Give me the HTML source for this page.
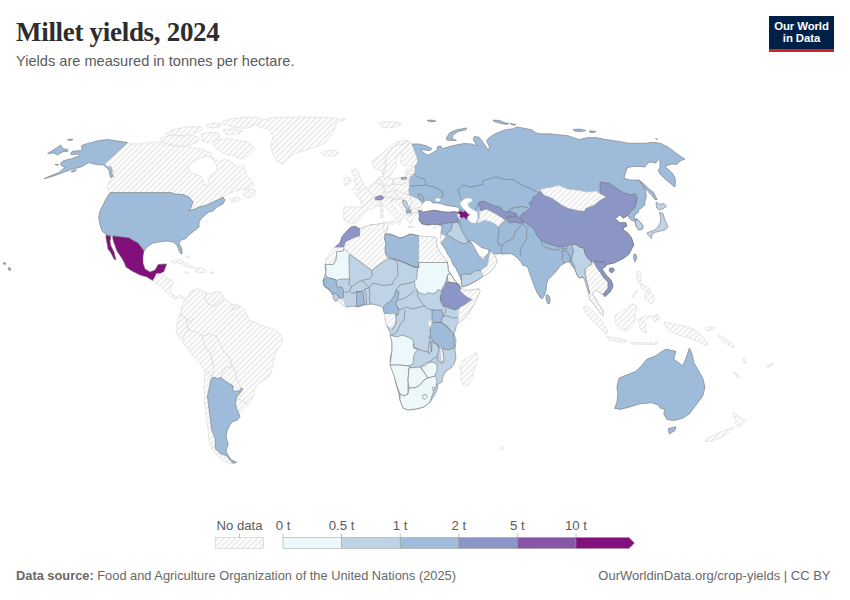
<!DOCTYPE html>
<html><head><meta charset="utf-8"><title>Millet yields, 2024</title>
<style>
html,body{margin:0;padding:0;background:#fff;}
body{width:850px;height:600px;position:relative;overflow:hidden;font-family:"Liberation Sans",Arial,sans-serif;}
.title{position:absolute;left:16px;top:16px;font-family:"Liberation Serif",serif;font-weight:bold;font-size:27px;color:#2d2d2d;letter-spacing:-0.3px;white-space:nowrap;line-height:32px;}
.sub{position:absolute;left:16px;top:52px;font-size:14.6px;color:#5b5b5b;white-space:nowrap;line-height:18px;}
.logo{position:absolute;left:769px;top:16px;width:65px;height:36px;background:#002147;}
.logo .bar{position:absolute;left:0;bottom:0;width:65px;height:3px;background:#ce261e;}
.logo .t{position:absolute;left:0;width:65px;text-align:center;color:#fff;font-weight:bold;font-size:11.4px;line-height:12px;letter-spacing:-0.1px;}
svg{position:absolute;left:0;top:0;}
.nd{fill:url(#hatch);stroke:#d2d2d2;stroke-width:0.5;}
.w{fill:#fff;stroke:#c8c8c8;stroke-width:0.4;}
polygon{stroke:#6e6e6e;stroke-width:0.55;stroke-linejoin:round;}
.b{fill:none;stroke:#6e6e6e;stroke-width:0.55;stroke-linejoin:round;}
.lb{fill:none;stroke:#c4c4c4;stroke-width:0.5;}
.lg{font-size:13.2px;fill:#5b5b5b;}
.foot{position:absolute;top:568px;font-size:13px;color:#686868;white-space:nowrap;line-height:16px;}
</style></head><body>
<div class="title">Millet yields, 2024</div>
<div class="sub">Yields are measured in tonnes per hectare.</div>
<div class="logo"><div class="t" style="top:4.3px">Our World</div><div class="t" style="top:16.4px">in Data</div><div class="bar"></div></div>
<svg width="850" height="600" viewBox="0 0 850 600">
<defs><pattern id="hatch" patternUnits="userSpaceOnUse" width="4" height="4" patternTransform="rotate(-45 2 2)">
<rect x="-1" y="-1" width="6" height="6" fill="#fff"/>
<path d="M-1,2 l6,0" stroke="#ccc" stroke-width="0.7"/>
</pattern></defs>
<g>
<polygon fill="#9ebcda" points="127.5,142.5 115,140.6 107.5,139.4 98.8,140.6 92.5,142.2 82.5,145 81.2,147 82.5,149.4 80,150.6 72.5,151.2 70.6,153.1 71.2,154.8 78.8,154 80,155.6 71.2,158.8 63.8,160.6 60.6,163.1 61.2,165.6 65,167.5 58.8,172.5 45,178.1 44.4,178.8 55,175.6 71.2,169.4 81.2,166.9 88.8,162.5 92.5,163.8 98.8,164.8 103.8,165 106.2,167.5 108.8,169.4 109.4,173.1 110.6,177.5 113.8,176.2 111.9,173.8 112.5,170 111.2,166.2 106.9,166.2 105,163.8"/>
<polygon fill="#9ebcda" points="47.5,153.5 52.5,150.6 60.6,145 63.1,148.8 67.5,149.4 68.1,151.2 62.5,151.9 57.5,155 53.8,153.1"/>
<polygon fill="#9ebcda" points="67.5,140 70,139 73,139.4 71,140.5"/>
<polygon fill="#9ebcda" points="71,171.5 74,170 76.5,169.8 74,172"/>
<polygon fill="#9ebcda" points="55,164.4 58.8,164.6 57.5,165.5"/>
<polygon fill="#9ebcda" points="3,263 5,262.5 6,264 4,264.5"/>
<polygon fill="#9ebcda" points="8,268 10,267.5 11,270 9,270.5"/>
<polygon class="nd" points="128,143.6 140,144 152,142 158,142 166,143 172,145 180,147 188,146 196,148 204,150 211,153 212,157 216,159 219.4,161.8 224,159.5 229.9,160.1 233.4,164.2 236.9,166.5 241.5,165.9 243.9,165.3 245,170 246.2,174.7 249.7,178.2 252,181.7 253.2,185.2 249.7,186.4 246.2,188.7 240.4,189.9 235.7,191 232.2,192.2 226.4,194.5 223,197 220,199 215,201 207,205 199,207 195,209 189,210.6 191,207 193,202 189,197 183,194.6 175,194 171,192.6 110,192.6 108,189 107.5,186 109,182 111,179 113.8,176.2 112.5,170 111.2,166.2 106.9,166.2 105,163.8"/>
<polygon fill="#9ebcda" points="110,192.6 171,192.6 175,194 183,194.6 189,197 193,202 191,207 189,210.6 195,209 199,207 207,205 215,201 220,199 223,197 225,200 223,204 217,207 213,211 209,212 205,215 201,219 199,222 199,227 194,231 189,235 185,239 181,240 179,243 182,249 182,254 180,253 177,245 173,242 167,241 159,242 153,243 147,247 144,251 141,247 138,243 134,241 129,238 121,237 113,236 106,234.6 102,231 100,225 98.6,217 100,211 103,205 106,199 109,194"/>
<polygon fill="#810f7c" points="113,236 121,237 129,238 134,241 138,243 141,247 144,251 143,256 143,263 145,269 150,272 155,270 158.2,264.4 166.6,263.9 164.8,269.1 163.8,271.9 160.1,273.8 156.3,273.8 155.4,276.6 152.5,280.4 147,277 140,275 132,271 126,267 124,262 121,257 117,251 114,243 112.6,238"/>
<polygon fill="#810f7c" points="106,235 111,236.6 110,241 111,246 114,252 116,260 114,259 111,253 108,249 107,243 106,238"/>
<polygon class="nd" points="152.5,281.4 155.4,276.6 156.3,273.8 160.1,273.8 163.8,271.9 164.5,275 168.5,278.5 172.3,280.4 173.2,283.2 171.4,286.1 170.4,290.8 172.3,294.5 176.1,296.4 180.8,295.5 184.5,297.4 186.4,300.2 183.6,299.2 179.8,297.4 176.1,299.2 172.3,297.4 168.5,294.5 165.7,291.7 161.9,287 158.2,284.2 154.4,282.8"/>
<polygon class="nd" points="171.4,261.6 176.1,259.7 180.8,259.7 185.5,262.5 190.2,265.4 194.9,267.2 192.1,268.2 187.4,267.2 182.6,264.4 177.9,262.5 173.2,263"/>
<polygon class="nd" points="195.8,268.2 201.5,267.7 206.2,270.5 205.2,272.4 200.5,272.9 195.8,271.9"/>
<polygon class="nd" points="210,271.8 213.7,272 213.5,273 210,273"/>
<polygon class="nd" points="185.5,271.9 188.8,272.2 187.4,273.4 185.5,273"/>
<polygon class="nd" points="186,255.5 188,256 189,258 187,257.5"/>
<polygon class="nd" points="254,122 273,117.4 301,117 325,117.4 346,119.3 336.5,122 334,131.5 324.7,143.3 313,148 301,151.5 291.8,155 282.4,164.5 277.6,162 273,155 270.6,145.6 273,136.2 268.2,129.2 258.8,126.8"/>
<polygon class="nd" points="321.2,152.7 327,150.4 336.5,150.4 338.8,153.2 334,156.2 324.7,156.2"/>
<polygon class="nd" points="213.5,139.7 221.7,139.7 229.9,138.5 239.2,140.8 247.4,142 250.9,144.3 255.5,149 252,152.5 247.4,156 242.7,158.9 236.9,157.8 232.2,154.8 226.4,154.8 221.7,152.5 217,149 213.5,145.5"/>
<polygon class="nd" points="165,134 175,129 188,127 200,126.5 203,129 198,132 190,134 180,135.5"/>
<polygon class="nd" points="207,124.5 214,123 221,123.5 220,127 212,128 207,127"/>
<polygon class="nd" points="223,121 232,118.5 242,117.5 256,117 262,119 258,124 250,127 244,128.5 236,127.5 228,126 223,124"/>
<polygon class="nd" points="160,138 170,135.5 182,136 194,135.5 199,138 197,142 190,145 180,146 170,145 162,142"/>
<polygon class="nd" points="201,134 210,132 218,133 220,137 215,141 208,143 202,141"/>
<polygon class="nd" points="223,129.5 235,129 243,131 238,134 226,134.5"/>
<polygon fill="#9ebcda" points="421,202 418,199 413,197 409,195 408.5,189 409.5,185 409,181 410,177 414,174 415,170 414.5,167.3 416,164.3 417.5,161.3 416.8,157.5 415.3,153.8 413.8,150 413,147 411.5,144 418.8,143.9 426.4,145.8 432,148.6 430.1,150.5 426.4,150.5 422.6,149.5 420.7,149.5 424.5,153.3 428.2,155.2 432.9,152.4 436.7,150.5 437.6,146.7 440.5,145.8 442.4,148.6 448.9,146.7 456.5,144.8 464,143.5 471.5,143.9 477.2,145.8 473.4,140.1 474.4,136.4 479.1,137.3 482.8,142 486.6,147.6 488.5,150.5 489.4,146.7 486.6,141.1 488.5,138.2 492.2,135.4 497.9,132.6 505.4,129.8 512.9,128.8 516.7,126.9 522.4,127.9 531.8,129.8 535.5,132.6 540,133.8 549.4,133.8 558.8,134.8 568.2,135.7 575.8,138.5 579.5,139.5 587.1,137.6 596.5,137.6 605.9,139.5 619.1,141.4 628.5,143.2 637.9,143.2 645.4,143.2 652.9,142.3 660.5,143.2 668,147 675.5,152.6 679.3,155.5 685,159 680,161 677,164.5 672,164 667,165.5 665,166.5 669,170 673,174 675,178 675.5,182 675,186.5 674.5,187 670,183 665,179 660,174 658,170 660,168 660,161 658,159.5 656,163 650,162 647,164 645,167 640,166.5 632,166.5 627,168 624,178 630,180 637.9,180 642.6,184.6 645.4,190.3 646.4,195.9 644.5,203.5 645.5,204.2 642,207.7 638.5,210 638.5,212.3 635,214.7 633.8,218.1 637.3,219.3 640.8,222.8 643.1,226.3 642,229.2 638.5,229.8 636.2,226.3 635,221 631.5,220.5 629.2,218.1 628,215.2 623.3,218.1 619.8,214.7 615.2,218.7 619.8,222.8 625.7,222.8 626.8,226.3 623.3,227.5 623.3,229.8 628,233.3 631.5,238 633.8,245 632,248 629,254 624,258 618,261 614,263 609,264 606,264.5 606,266 602,269 606,275 611,280 613,286 610,292 605,296.5 602,294 599,292 596,290 593.5,292 592.1,293 593.3,295.5 595.6,299 598,303.7 601.5,308.3 603.8,313 602.6,315.9 600.3,313 596.8,308.3 593.3,303.7 589.8,299 588.7,294.3 589.2,290.8 587.8,285.2 586.4,279.5 585,275.9 582.2,277.4 579.3,278.1 577.2,275.2 575.1,269.6 571.5,265.3 570.1,262.5 568,261.8 564.4,263.2 560.9,265.3 558.1,268.9 555.2,272.4 551,276.7 548.2,279.5 546.7,283.7 546,290.8 544.6,295.1 542.5,298.6 540.4,297.9 536.8,292.2 534,285.2 531.9,279.5 529.7,273.8 528.3,268.9 526.2,266 522.7,265.3 521.2,262.5 518.4,259 514.2,255.4 511.3,253.7 505.7,254 500,253.5 495,254.3 490.7,251 486.3,248.8 482,247.8 477.7,244.5 473.3,241.3 470.1,240.2 467.9,241.3 471.2,242.3 473.3,245.6 475.5,249.9 478.8,255.3 482,258.6 484.2,257.5 486.3,255.3 488.5,253.2 489,250.5 490.7,251 495,256.4 497.2,260.8 495,266.2 490.7,271.6 486.3,274.8 483.1,275.9 478.8,279.2 473.3,282.4 467.9,285.1 462.5,286.8 461.9,285.7 461.6,281.3 460.1,277 458,272.7 455.8,268.3 452.6,264 451.5,259.7 448.2,255.3 445,248.8 441.8,244.5 441,240 440.8,235 441.5,230 442,226 437,224.3 432.3,224.3 427,225 421.7,223.7 419,219.7 419.5,216 419,212.3 418.3,210.3 421.7,211 423.7,212.3 426.5,211.5 429.7,211 435,210.3 441.7,211.7 448.3,212.3 453.7,211.7 457.7,212.3 458.5,212 459.7,210 458.5,207.5 455,206.5 450,206 445,205 442,204 438,203 437,203 433,203 430,200.5 426,200 422,204"/>
<polygon class="w" points="460.3,203.3 462.3,200.7 465,198.7 468.3,198 471.7,198.7 472.3,200.7 471,202 469,202.7 467.7,204 468.3,206 470.3,208 473,210 475.7,210.7 477,212 477.7,215.3 477.7,218.7 476.3,222 475,223.3 471.7,222.7 469,220.7 467.7,218.7 467.7,215.3 467,213.3 465.7,211.3 463.7,209.3 462.3,207.3 461,205.3"/>
<polygon class="nd" points="378,123 385,121.5 395,122 402,123.5 398,126 390,128 382,127"/>
<polygon class="w" points="435,199 438,198 441,199.5 439,201.5 436,201.5"/>
<polygon fill="#9ebcda" points="446.1,138.2 449.9,132.6 456.5,129.8 466.8,127.9 465.9,129.8 458.4,131.6 453.6,134.5 451.8,138.2 456.5,140.5 450.8,140.5 447,140.1"/>
<polygon fill="#9ebcda" points="427,120.4 432,120 436,121.2 431,121.9"/>
<polygon fill="#9ebcda" points="493,120 500,120.5 504,122.5 509,123.5 506,124.5 499,123 494,121.5"/>
<polygon fill="#9ebcda" points="510,123.5 516,124.5 513,125.2"/>
<polygon fill="#9ebcda" points="573,129.5 580,129 586,130.5 581,131.6 575,131.2"/>
<polygon fill="#9ebcda" points="589.5,130.8 596,131.3 594,132.6 590,132.4"/>
<polygon fill="#9ebcda" points="655.5,138.6 657.5,139 656.5,139.8"/>
<polygon fill="#9ebcda" points="639,179.7 644.3,184.3 649,189 653.6,192.5 657.1,199.5 654.8,199.5 651.3,194.8 646.6,190.2 642,184.3"/>
<polygon class="nd" points="343.8,207.5 350,206.2 357.5,207.5 362,207.8 361,203 360,198.5 357,196.2 353.8,194 356,192.5 361.2,191.2 366.2,187.5 371.2,185 375,181.9 377.5,178.8 380,176.2 383.8,177 382.5,172.5 386.2,171.2 387.5,176.2 392.5,178.8 400,177.5 407.5,177.5 406.2,175 405,171.2 407.5,168.8 412.5,167.5 414.5,167 415,170 414,174 410,177 409,181 409.5,185 408.5,189 409,195 413,197 418,199 421,202 422,204 421,207 422,210 418.5,210.5 417,212 416,215 413,218 412.5,222.5 410,223.8 408,221 406.5,218 405,215 403.5,211.4 401,207.6 397.3,203.8 393.5,200.5 390.7,201 392.6,204.8 395.4,208.5 399.2,212.3 402.9,215.1 403.9,218 400.6,219.8 401,223.6 399.2,224.5 398.2,220.8 394.5,217 390.7,213.2 387,209.5 385,206.6 383.2,204.8 379.4,206.6 378.8,205 376.2,206.2 372.5,208.8 367.5,209.4 366.2,212.5 362.5,215 360,218.8 357.5,222.5 353.8,223.8 348.8,222.5 345,221.2 343.1,217.5 343.8,212.5"/>
<polygon class="nd" points="372.5,160.5 374.8,158.3 378.5,156.8 382.3,153.8 386,150 389.8,147 393.5,144 397.3,142.1 401,141 404.8,140.3 408.5,140.6 411.5,144 413,147 413.8,150 415.3,153.8 416.8,157.5 417.5,161.3 416,164.3 414.5,166 410,165.5 406.3,165.8 402.5,165 401,162.8 400.3,159.8 401.8,156.8 402.5,153.8 401,153 398.5,154.5 397.3,157.5 395.8,159.8 395.8,163.5 397.3,165.8 395,168 393.5,170.3 392.8,172.5 391.3,174.8 389,177 386.8,179.3 384.5,180 383.8,177 383,174 382.3,171 380,170.3 377,169.5 374.8,168.8 373.3,166.5 372.5,163.5"/>
<polygon class="nd" points="351.2,170 356.2,168.8 358.8,172.5 361.2,178.8 363.8,183.8 365,187.5 361.2,189.4 356.2,190 352.5,189.4 355,186.9 356.2,183.8 353.8,181.2 355,177.5 352.5,174.4"/>
<polygon class="nd" points="343.8,181.2 346.2,177.5 350,177.5 351.2,181.2 348.8,185 345,185.6"/>
<polygon class="nd" points="388.8,221.5 395.5,221 396.3,223 393,224.5 389.5,224"/>
<polygon class="nd" points="380.5,210.5 383,210.3 383.2,217.5 380.8,218"/>
<polygon class="nd" points="381,206.6 382.8,206.6 382.6,209.6 381,209.6"/>
<polygon class="nd" points="408,226.3 414,226.3 414,227.6 408,227.6"/>
<polygon class="nd" points="433,227 437,226.5 437,228.2 433,228.2"/>
<polygon fill="#8c96c6" points="375,197.5 377.5,196.2 381.2,195.6 383.8,197.5 382.5,199.4 378.8,200 375.6,199.8"/>
<polygon fill="#bfd3e6" points="403.1,200 406.2,201.2 407.5,205 410,207.5 408.8,209.4 405.6,208.1 403.8,205 402.5,202.5"/>
<polygon fill="#9ebcda" points="406.2,210 411,210 411.2,213 406.5,213"/>
<polygon fill="#9ebcda" points="401,177.5 406,177 406.5,179 401.5,179.5"/>
<polygon fill="#9ebcda" points="418,194 421,194.5 424,198 423,201 420,199 418,196"/>
<polygon fill="#8c96c6" points="539,192 540,191.5 544,195 552,198 562,205 568,208 576,210 584,211 586,208 594,205 600,200 606,197 600,195 600,188 600,182 609.3,183.2 617.5,189 623.3,192.5 630.3,194.8 635,193.7 637.3,198.3 636.2,203 635,207.7 630.3,212.3 628,215.2 623.3,218.1 619.8,214.7 615.2,218.7 619.8,222.8 625.7,222.8 626.8,226.3 623.3,227.5 623.3,229.8 628,233.3 631.5,238 633.8,245 632,248 629,254 624,258 618,261 614,263 609,264 606,264.5 604,262 599,262 594,261 590.7,261.1 587.8,258.2 585,254 583.6,248.3 579.3,246.9 576.5,244.8 572.2,244.1 566.6,245.5 562.3,246.9 556.7,246.2 551,244.8 545.3,242.7 541.1,240.5 536.8,235.6 535,231 532,227 528,225 525,222 522,220 520,217 522,214 525,212 528,210 531,207 529,203 532,201 533,197 537,195"/>
<polygon class="nd" points="540,190 544,188.5 551,187.5 558.8,185.6 568.2,189.4 577.6,190.3 587.1,192.2 596.5,191.2 600.2,194.1 605.9,196.9 600,200 594,205 586,208 584,211 576,210 568,208 562,205 552,198 544,195"/>
<polygon class="nd" points="587,264 593.5,262.5 595,264 597,268 600,272 604,278 608,282 608,288 604,293 602,294 599,292 596,290 593.5,292 592.1,293 593.3,295.5 595.6,299 598,303.7 601.5,308.3 603.8,313 602.6,315.9 600.3,313 596.8,308.3 593.3,303.7 589.8,299 588.7,294.3 589,292 587,286 586,280 585,274 586,268"/>
<polygon fill="#8c96c6" points="594,261 599,262 604,262 606,264.5 606,266 602,269 606,275 611,280 613,286 610,292 605,296.5 604,293 608,288 608,282 604,278 600,272 597,268 595,264"/>
<polygon fill="#bfd3e6" points="572.2,244.1 576.5,244.8 579.3,246.9 583.6,248.3 585,254 587.8,258.2 590.7,261.1 592.1,263.9 587.8,266.7 585,269.6 585,273.1 586.4,279.5 587.8,285.2 589.2,290.8 589.9,293.7 588.5,292.2 586.4,286.6 585,280.9 582.9,276.7 579.3,278.1 577.2,275.2 575.1,269.6 573.7,263.9 571.5,261.1 572.2,255.4 573.7,251.2 572.2,246.9"/>
<polygon fill="#8c96c6" points="418.3,210.3 421.7,211 423.7,212.3 426.5,211.5 429.7,211 435,210.3 441.7,211.7 448.3,212.3 453.7,211.7 457.7,212.3 458.3,215 458.5,218 457.7,221.7 453.7,222.3 448.3,223 443.7,223.7 441.7,224.3 437,224.3 432.3,224.3 427,225 421.7,223.7 419,219.7 419.5,216 419,212.3"/>
<polygon class="nd" points="457.8,213.5 460,213.2 461,215.5 460.8,218.3 458.8,218.2 457.6,216"/>
<polygon fill="#810f7c" points="458.3,212 461,211 463,212.3 465,211.3 466.3,212 467.7,213.7 469.7,214.7 468,216 467,217.3 466.3,219.7 465,218 463.7,217 461.7,218 459.7,216.7 460.3,214.7 458.7,213.7"/>
<polygon fill="#bfd3e6" points="452.3,223.3 457.7,222 459,224.3 460.3,227 461.7,230.3 463,233 465,236 467.9,241.3 466.8,243.4 462.5,243.4 455,239.7 449.7,236.3 446.5,234.5 448.3,232.3 451,230.3 452,227"/>
<polygon class="nd" points="440.8,233.7 443,234.8 446.3,236.9 444,240 441,243.4 440.2,240 440.5,236"/>
<polygon fill="#8c96c6" points="478.8,202.5 483.8,201.2 490,203.8 495,206 500,207 503,211 508,212 510,211 513,212.5 516,213.5 517,215 513,216.5 509,216 507,217 505,220.6 501.2,217.5 495,213.8 490,211.2 486.2,209.4 481.2,211.2 480,207.5 478.8,203.8"/>
<polygon class="nd" points="479,211.5 481.2,211.2 486.2,209.4 490,211.2 495,213.8 501.2,217.5 505,220.6 501.2,223.8 498.8,226.9 495,223.8 490,221.2 483.8,220 478.5,223 477.5,221 479.5,218 479.8,214"/>
<polygon fill="#8c96c6" points="507,217 513,217 517,216 520,218 523,221 524,223 518,223 515,222 511,223 508,222"/>
<polygon fill="#bfd3e6" points="461.4,274.8 465.8,273.8 470.1,274.8 472.3,272.7 476.6,270.5 480.9,270.5 483.1,275.9 478.8,279.2 473.3,282.4 467.9,285.1 462.5,286.8 461.4,283.5"/>
<polygon class="nd" points="483.1,275.9 480.9,270.5 487.4,266.2 488.5,260.8 489.6,255.3 490.7,251 495,256.4 497.2,260.8 495,266.2 490.7,271.6 486.3,274.8"/>
<polygon class="nd" points="482,256 484.2,256.5 484.2,258.6 482,258.6"/>
<polygon fill="#bfd3e6" points="656,201.8 659.5,204.2 664.1,203.6 666.5,206.5 663,208.8 659.5,210 656.6,207.7"/>
<polygon fill="#bfd3e6" points="659.5,212.3 663,213.5 664.7,219.3 667,224 667.6,227.5 665.3,229.8 660.6,231 656,232.1 652.5,233.3 651.3,238.6 649,235.6 646.6,233.3 649,232.1 654.8,229.8 658.3,226.3 660.6,221.6 660.6,217"/>
<polygon fill="#bfd3e6" points="635,221 637.3,219.3 640.8,222.8 643.1,226.3 642,229.2 638.5,229.8 636.2,226.3"/>
<polygon fill="#9ebcda" points="634,254 636,254.5 637,258 635,262 633.5,258"/>
<polygon fill="#8c96c6" points="609.3,268.3 613,267.8 614.6,270.3 612,273 609.3,271.6"/>
<polygon fill="#9ebcda" points="546.7,294.4 548.9,295.8 550.3,299.3 549.6,303.6 547.5,303.6 546,299.3 546,296.5"/>
<polygon class="nd" points="583,306 588,306 594,312 600,318 604,324 608,332 606,334 602,330 596,324 590,318 585,312"/>
<polygon class="nd" points="606,336 616,338 626,340 628,342 620,342 610,340"/>
<polygon class="nd" points="614.7,315.7 620,313 626.7,307.7 632,303.7 636,305 637.3,309 634.7,313 636,318.3 633.3,323.7 629.3,329 624,330.3 618.7,327.7 615.3,322.3"/>
<polygon class="nd" points="640,318.3 645.3,316.3 652,315.7 646.7,318.3 644,321 646.7,323.7 645.3,327.7 646.7,333 642.7,331.7 640,327.7 638.7,323.7 638,319.7"/>
<polygon class="nd" points="636.5,272 640,271.5 641.5,275 640,279 642,283 640.5,285 638,282 637,277"/>
<polygon class="nd" points="640,284 645,285.5 649,288 651,291 648,292 644,290 641,288"/>
<polygon class="nd" points="645,293 650,292 653.5,295 654.5,300 652,304 649,302.5 646,299 644.5,296"/>
<polygon class="nd" points="636.5,290 637.5,290.5 633,297.5 632,297"/>
<polygon class="nd" points="656,314.5 658,314.3 660,318 658.5,321 656.5,319"/>
<polygon class="nd" points="664,322 672,323 680,325 688,327 695,330 700,334 704,338 708,344 706,346 700,342 694,340 688,338 682,336 676,334 670,331 666,327"/>
<polygon class="nd" points="630,342 640,342.5 650,343 658,342 656,344.5 645,344.5 632,344"/>
<polygon fill="#bfd3e6" points="351,227 360,229 370,225 380,224 386,222 388,226 387,230 385,234 390,234 395,236 400,238 404,237 406,236 410,234 415,235 419,236 425,236.5 430,237 436,237.5 437,240 436,242.3 437.3,247 439.8,252 444,257.5 447.2,261.8 448,266 448.2,270.5 450.8,274 454,279.2 457.3,283.5 459.8,287 461.5,288.5 464,290 467.5,290.5 472.5,290 478.8,288.8 480,291.2 477.5,297.5 473.8,305 468.8,312.5 463.8,318.8 458.8,322.5 456.2,325 456,328 454,334 456,340 455,350 456,358 454,364 451,368 446,371 443,376 442,382 438,384 437,390 434,396 430,402 424,407 416,409 408,410 403,408 400,400 399,394 396,384 394,374 391,366 390,360 392,350 392,340 390,332 386,324 385,318 386,312 384,308 380,306 372,304 364,305 358,307 352,306 346,307 342,304 337,299 332,294 329,290 324,286 323,281 324,278 326,272 325,266 326,262 330,254 334,248 340,243 342,237 346,232"/>
<polygon fill="#8c96c6" points="351,227 355,226 360,229 360,236 354,238 346,242 344,247 334,248 340,243 342,237 346,232"/>
<polygon class="nd" points="334.3,247.6 343.7,247.6 343.1,251.1 336.7,251.7 335.5,259.8 333.2,263.9 325,264.5 326.7,258.7 329.7,252.8"/>
<polygon fill="#edf8fb" points="325,264.5 333.2,264.5 336.1,259.8 336.7,251.7 343.1,251.1 343.7,248.7 350.7,254.6 348.9,255.2 349.5,279 341.3,279 336.7,280.2 332,278.5 327.3,278.5 325.6,273.8 326.2,269.2"/>
<polygon class="nd" points="343.7,248.2 346,242 354,238 360,236 360,229 370,225 380,224 386,222 388,226 387,230 385,234 384.5,240 386,242 385,250 385.6,254 388,258.7 381,263.3 371.6,270.3 350.7,254.6"/>
<polygon class="nd" points="384,222.5 387,222 388,226 387,230 385,234 383.5,229"/>
<polygon fill="#9ebcda" points="385,234 390,234 395,236 400,238 404,237 406,236 410,234 415,235 419,236 418.8,267.5 414,267 400,261 396,259 390,258 387,256 385.6,254 385,250 386,242 384.5,240"/>
<polygon class="nd" points="419,236 425,236.5 430,237 436,237.5 437,240 436,242.3 437.3,247 439.8,252 444,257.5 447.2,261.8 446.2,262.5 418.8,262.5"/>
<polygon fill="#edf8fb" points="418.8,262.5 446.2,262.5 447.2,261.8 448,266 448.2,270.5 450,273.8 447.5,275 446.2,280 445,283.8 442.5,287.5 441.2,291.2 438.1,289.4 436.2,292.5 432.5,293.8 428.8,292.5 425,294.4 420,293.1 416.9,290 415,286.2 414.4,281.2 416.9,278.8 417.5,268.8 418.8,267.5"/>
<polygon fill="#edf8fb" points="450,273.8 450.8,274 454,279.2 457.3,283.5 459.8,287 458.8,283.8 455,283.1 451.2,282.5 447.5,281.2 447.5,275"/>
<polygon fill="#8c96c6" points="446.2,282.5 451.2,282.5 455,283.1 458.8,285 461.2,287.5 460,290 462.5,293.1 466.2,296.2 472.5,299.4 470,301.2 465,305 460,307.5 455,310 451.2,308.8 447.5,307.5 443.8,305 441.2,301.2 440,297.5 441.2,293.8 442.5,290 445,286.2"/>
<polygon class="nd" points="461.5,288.5 464,290 467.5,290.5 472.5,290 478.8,288.8 480,291.2 477.5,297.5 473.8,305 468.8,312.5 463.8,318.8 458.8,322.5 458.1,317.5 458.8,311.2 460,307.5 465,305 470,301.2 472.5,299.4 466.2,296.2 462.5,293.1 460,290"/>
<polygon fill="#9ebcda" points="323.2,280.8 327.3,277.3 332,278.5 336.1,280.2 336.7,286.6 342.5,287.8 343.7,291.3 343.1,298.3 341.3,299.5 339,296 333.2,293.6 329.1,289 325,286.6 323.8,284.3"/>
<polygon fill="#bfd3e6" points="333.2,293.6 336,293.5 338.4,296.5 338,300.5 335,301.2 333,298"/>
<polygon class="nd" points="338.4,298.5 341.3,299.5 343.1,298.3 344.2,303 346,307.6 342,304 338,301"/>
<polygon fill="#9ebcda" points="356.5,291.9 362.3,291.3 363.5,294.8 364,300.6 364.6,304.1 361.1,305.3 356.5,306.5 356.5,300.6"/>
<polygon fill="#9ebcda" points="396,290 399,292 398,298 396,304 399,310 398,315 390,314 384,313 383,308 386,304 390,302 394,296"/>
<polygon class="nd" points="384,314 395,314 396,320 394,326 390,328 386,324"/>
<polygon fill="#edf8fb" points="390,335 397,337 402,335 408,337 413,340 414,348 418,349 414,354 413,364 408,366 400,365 390,365 391,358 392,350 392,342"/>
<polygon fill="#edf8fb" points="390,365 400,365 408,366 412,368 409,368 408,380 408,394 404,396 400,394 397,386 394,376 392,370"/>
<polygon fill="#edf8fb" points="409,368 420,367 424,372 428,378 424,380 419,386 414,388 409,388 408,380"/>
<polygon fill="#edf8fb" points="421,367 426,363 432,362 437,364 437,370 435,376 428,378 424,372"/>
<polygon fill="#edf8fb" points="400,394 404,396 408,394 409,388 414,388 419,386 424,380 428,378 435,376 437,380 436,388 434,390 430,402 424,407 416,409 408,410 403,408 400,400"/>
<polygon fill="#9ebcda" points="431,323 436,322 442,323 448,328 453,333 454,340 454,348 448,350 440,348 435,343 431,338 430,330"/>
<polygon fill="#9ebcda" points="432,310 442,310 443,316 441,322 434,323 432,319"/>
<polygon class="nd" points="460,366 464,360 471,356 476,352 478,358 475,368 472,378 468,386 464,386 461,380 461,372"/>
<polygon class="nd" points="186.4,300.2 190.2,291.7 194.9,289.8 198.6,288 201.5,290.8 205.2,292.6 210.9,293.6 215,292 221,292 224,298 228,301 232,304 237,304.5 242,307 245,310 247,315 249,320 255,322 260,325 267,327 273,329 279,333 282,337 282.7,340.3 278.7,348.3 274.7,355 273.3,361.7 272,369.7 269.3,376.3 264,380.3 258.7,383 254.7,388.3 254,393.7 252,399 248,404.3 245.3,408.3 241.3,411.7 238.7,411 237.5,410.5 240,416.3 237.7,419.8 231.8,422.2 229.5,425.7 227.2,430.3 226,436.2 227.2,444.4 226,449 227.2,454.9 230.7,459.5 236.5,461.9 233,463 230.7,464.2 223.5,460.6 217.6,455.9 211.8,448.8 208.8,439.4 208,430 206.5,420 205,407 203.8,388.3 205,372 202.7,367.3 193.3,355.7 184,344 178,336 176,330 177,324 180,314 183,302"/>
<polygon fill="#9ebcda" points="212,378 214,377.3 216.7,378 217.7,379.3 218.7,377.7 221.3,377.7 224,380 226.7,382 230,384 232.7,385.3 233.3,388 232.7,390.7 236,391.3 239.3,390.7 241.3,388 242.7,388.7 241.3,391.3 238.7,394.7 236.7,397.3 236,400 235.5,404 236.5,408 237.5,410.5 240,416.3 237.7,419.8 231.8,422.2 229.5,425.7 227.2,430.3 226,436.2 228.2,444.1 225.9,451.2 228.2,455.3 230.6,459.4 236.5,462.4 233,463.3 229.4,459.4 227,455.9 220,453.5 215.3,448.8 215.3,439.4 211.8,430 210.8,423.3 209.7,414 208.5,404.7 208,400 207.3,396.7 208.3,392 209.3,388 210,383.3 210.7,380"/>
<polygon fill="#9ebcda" points="665.9,349.1 676,351.3 673.8,359.1 682.7,365.8 686,358 689.4,347.9 691.6,352.4 693.9,362.5 698.3,370.3 702.8,378.1 705,387 702.8,396 696.1,404.9 689.4,413.9 682.7,418.3 673.8,420.6 667,419.5 663.7,413.9 664.8,409.4 660.3,408.3 658.1,404.9 651.4,402.7 640.2,403.8 629,407.2 620.1,409.4 614.5,408.3 616.8,402.7 617.9,393.8 616.8,387 619,378.1 626.8,374.8 635.8,371.4 641.4,365.8 646.9,359.1 655.9,355.8 660.3,352.4"/>
<polygon fill="#9ebcda" points="668.2,428.4 676,426.8 674.9,430.6 669.3,434"/>
<polygon class="nd" points="733,411.6 738,416 746,421 743,424 738,427.3 735,422 734,416"/>
<polygon class="nd" points="734,427 730,432 722,437 712,441 705,442 708,438 716,434 726,430"/>
<polygon class="w" points="188.4,166.5 191.3,163 196,160.1 201.8,157.2 207.7,156 212.4,158.9 214.7,161.8 217,165.3 216.4,170 213.5,173.5 210,175.3 208.9,179.4 207.7,185.2 204.8,185.8 203,181.7 201.8,177 198.3,175.3 192.5,173.5 189,170.6"/>
<polygon class="nd" points="428.5,321 431,320.5 431.5,324 430.5,327 428.5,326"/>
<polygon class="nd" points="705,328 710,326.5 715,327.5 712,330 707,331"/>
<polygon class="nd" points="718,334 724,338 730,342 735,347 733,348 727,344 721,339 717,335.5"/>
<polygon class="nd" points="743,358 745,359 745.5,363 744,363"/>
<polygon class="nd" points="734,372 736,372.5 740,377.5 738.5,378.5 734.5,374"/>
<polygon class="nd" points="766,366 772,363 773.5,364 768,367.5"/>
<polygon class="nd" points="653,316 656,315 657,319 655,322 653,320"/>
<polygon class="nd" points="500.5,448 502,446.5 504,447.5 503,449 501,449.5"/>
<polygon class="nd" points="244,190.5 249,188.8 254,189.3 256,192 254,196 249,198 245,197 243,194"/>
<polygon class="nd" points="229.5,199.5 234,197.8 239,197.2 240.5,199.3 236,201.5 231,202.3"/>
<polygon class="w" points="440.3,346 441.8,347.5 442.8,353 443.6,359 442.8,362.5 441.5,359 440.6,352"/>
<polygon fill="#edf8fb" points="423,395 426,394.5 427.5,397 425,399.5 422.5,398"/>
<polygon fill="#edf8fb" points="432,387.5 434.5,387 435,389.5 433,390.5"/>
<polyline class="b" points="461,199 458,190 462,186 464,185.3 470,187 475.3,186.2 482.8,184.4 482.8,180.6 496,176.8 505.4,179.6 512.9,179.6 522.4,185.3 531.8,189.1 537,192"/>
<polyline class="b" points="475,211 478.8,203 483.8,201.2"/>
<polyline class="b" points="414,174 418,177 424,179 426,182.5 425,185"/>
<polyline class="b" points="409.5,185.5 414,186 420,185.5 425,185"/>
<polyline class="b" points="425,185 430,186 436,188 442,191 443,195 441,198"/>
<polyline class="b" points="459.7,210 462,209.5 465,210.5 466.3,212"/>
<polyline class="b" points="498.8,226.9 498.8,233.8 497.5,240 498.8,245 502.5,245 501.2,250 502.5,255"/>
<polyline class="b" points="502.5,245 505,242.5 510,240 513.8,237.5 515,232.5 518.8,227.5 522.5,223.8"/>
<polyline class="b" points="498.8,226.9 501.2,223.8 505,220.6"/>
<polyline class="b" points="522.5,223.8 527,228 526.5,232 527,237 525,242 521.5,247 520,251 521,256"/>
<polyline class="b" points="541.1,240.5 542,245 546,247.5 552,249.5 558,250 559,247"/>
<polyline class="b" points="562,247 562,249 567,248.5 567,246"/>
<polyline class="b" points="562,251 566,250.5 568,253 570.1,257 570.1,262.5"/>
<polyline class="b" points="562,251 563,255 562,259 564.4,263.2"/>
<polyline class="b" points="508,213 509,210 513,208 521,206.5 528,207.5"/>
<polyline class="b" points="440.8,243.4 446.3,236.9"/>
<polyline class="b" points="467.9,241.3 471.2,242.3"/>
<polyline class="b" points="459,220 461.4,225"/>
<polyline class="b" points="635,221 637.3,219.3"/>
<polyline class="b" points="350.7,254.6 371.6,270.3 372.2,275 370.5,278.5 362.3,280.2 356.5,283.1 351.8,286.6 349.5,291.3 344.8,292.5"/>
<polyline class="b" points="349.5,279 349,285 351.8,286.6"/>
<polyline class="b" points="371.6,270.3 381,263.3 388,258.7 395,259.8 397.3,263.3 398,275 393.8,280.8 392.6,284.3 383.3,285.5 374,283.1 371.6,284.3 369.3,287.8"/>
<polyline class="b" points="362.3,280.2 363.5,282 367,285.5 369.3,287.8 364.6,289 362.3,291.3 356.5,291.9 351.8,293.6 349.5,291.3"/>
<polyline class="b" points="369.3,287.8 369.9,293.6 369.3,299.5 370.5,304.1"/>
<polyline class="b" points="364.6,289 366,295 366.5,304.5"/>
<polyline class="b" points="395,259.8 404,262 414,267 418.8,267.5"/>
<polyline class="b" points="414.4,281.2 410,283 405,284 400,285 396,290"/>
<polyline class="b" points="398,300 403,299 408,296 412,293 415,290"/>
<polyline class="b" points="416.9,290 418,297 422,303 425,306"/>
<polyline class="b" points="397,307 400,310 406,307 413,309 420,307 424,306 428,309 433,310"/>
<polyline class="b" points="440,299 442,305 444,307 443.8,305"/>
<polyline class="b" points="405,310 404,320 400,325 397,332 392,335"/>
<polyline class="b" points="396,314 396,324 392,330"/>
<polyline class="b" points="429,335 430,341 431,347 431.5,352 432,341.5"/>
<polyline class="b" points="413,344 414,348 418,349 423,351 428,352 430,354 428,350 429,343 432,341.5 438,345"/>
<polyline class="b" points="438,345 439,350 437,357 438,362"/>
<polyline class="b" points="441,346 443,352 444,358 443,363 441,363 439,361"/>
<polyline class="b" points="437,357 433,359 429,362 425,366 421,366"/>
<polyline class="b" points="441,322 447,326 451,331"/>
<polyline class="b" points="443,316 448,316 452,318 458.1,317.5"/>
<polyline class="b" points="443.8,305 446,310 444,316 443,316"/>
<polyline class="lb" points="206,292 205,298 208,304 215,306 220,302 224,298"/>
<polyline class="lb" points="232,304 232,310 240,306"/>
<polyline class="lb" points="180,314 186,318 190,322 194,318"/>
<polyline class="lb" points="186,318 188,330 184,336 183,340"/>
<polyline class="lb" points="188,330 196,332 202,336 205,348 210,352 212,360 214,370 212,377.8"/>
<polyline class="lb" points="202,336 210,334 216,336 220,344 224,352 230,358 232,366"/>
<polyline class="lb" points="205,372 209,372 212,377.8"/>
<polyline class="lb" points="221.3,377.7 222,372 226,368 232,366 236,372 236,378 241.3,388"/>
<polyline class="lb" points="236,391.3 238,394 238.7,394.7"/>
<polyline class="lb" points="236.7,397.3 240,400 244,402 248,404.3"/>
<polyline class="lb" points="362,207.8 366,204 370,201 375,197.5"/>
<polyline class="lb" points="375,181.9 380,184 384,186"/>
<polyline class="lb" points="377.5,178.8 381,180 384,186 384,192 383.8,197.5"/>
<polyline class="lb" points="384,186 390,185 395,184 400,185 406,183 409,181"/>
<polyline class="lb" points="392.5,178.8 393,184 395,184"/>
<polyline class="lb" points="383.8,197.5 388,197 392,198 396,199 403.1,200"/>
<polyline class="lb" points="384,192 390,192 395,190 399,191 402,193 409,195"/>
<polyline class="lb" points="395,190 396,194 398,197 402,198 403.1,200"/>
<polyline class="lb" points="409,195 410,198 412,202 410,207.5"/>
<polyline class="lb" points="408.8,209.4 412,210 416,208 421,207"/>
<polyline class="lb" points="406.5,213 408,216 412,214 417,212"/>
<polyline class="lb" points="379.4,206.6 381,202 382.5,199.4"/>
<polyline class="lb" points="390.7,201 392,200 396,199"/>
<polyline class="lb" points="366.2,187.5 369,191 372,194 375,197.5"/>
<polyline class="lb" points="406.2,175 411,174 414,174"/>
<polyline class="lb" points="405,171.2 410,171 415,170"/>
<polyline class="lb" points="383,174 385,170 386,165 385,160 387,155 390,150 393,147 397,145 401,145 405,143 408.5,140.6"/>
<polyline class="lb" points="401,153 403,150 406,147 409,145 410,142"/>
</g>
<g>
<rect x="215.5" y="537.5" width="48" height="11" fill="url(#hatch)" stroke="#ccc" stroke-width="0.6"/>
<text class="lg" x="239.5" y="530" text-anchor="middle">No data</text>
<line x1="239.5" y1="533.5" x2="239.5" y2="537.5" stroke="#999" stroke-width="0.6"/>
<rect x="283" y="537.5" width="58.6" height="11" fill="#edf8fb" stroke="#999" stroke-width="0.5"/>
<rect x="341.6" y="537.5" width="58.6" height="11" fill="#bfd3e6" stroke="#999" stroke-width="0.5"/>
<rect x="400.2" y="537.5" width="58.6" height="11" fill="#9ebcda" stroke="#999" stroke-width="0.5"/>
<rect x="458.8" y="537.5" width="58.6" height="11" fill="#8c96c6" stroke="#999" stroke-width="0.5"/>
<rect x="517.4" y="537.5" width="58.6" height="11" fill="#8856a7" stroke="#999" stroke-width="0.5"/>
<path d="M576,537.5 H629 L634.5,543 L629,548.5 H576 Z" fill="#810f7c" stroke="#999" stroke-width="0.5"/>
<g stroke="#999" stroke-width="0.6">
<line x1="283" y1="533.5" x2="283" y2="537.5"/><line x1="341.6" y1="533.5" x2="341.6" y2="537.5"/><line x1="400.2" y1="533.5" x2="400.2" y2="537.5"/><line x1="458.8" y1="533.5" x2="458.8" y2="537.5"/><line x1="517.4" y1="533.5" x2="517.4" y2="537.5"/><line x1="576" y1="533.5" x2="576" y2="537.5"/>
</g>
<text class="lg" x="283" y="530" text-anchor="middle">0 t</text>
<text class="lg" x="341.6" y="530" text-anchor="middle">0.5 t</text>
<text class="lg" x="400.2" y="530" text-anchor="middle">1 t</text>
<text class="lg" x="458.8" y="530" text-anchor="middle">2 t</text>
<text class="lg" x="517.4" y="530" text-anchor="middle">5 t</text>
<text class="lg" x="576" y="530" text-anchor="middle">10 t</text>
</g>
</svg>
<div class="foot" style="left:16px;font-size:12.83px"><b>Data source:</b> Food and Agriculture Organization of the United Nations (2025)</div>
<div class="foot" style="right:19.5px">OurWorldinData.org/crop-yields | CC BY</div>
</body></html>
